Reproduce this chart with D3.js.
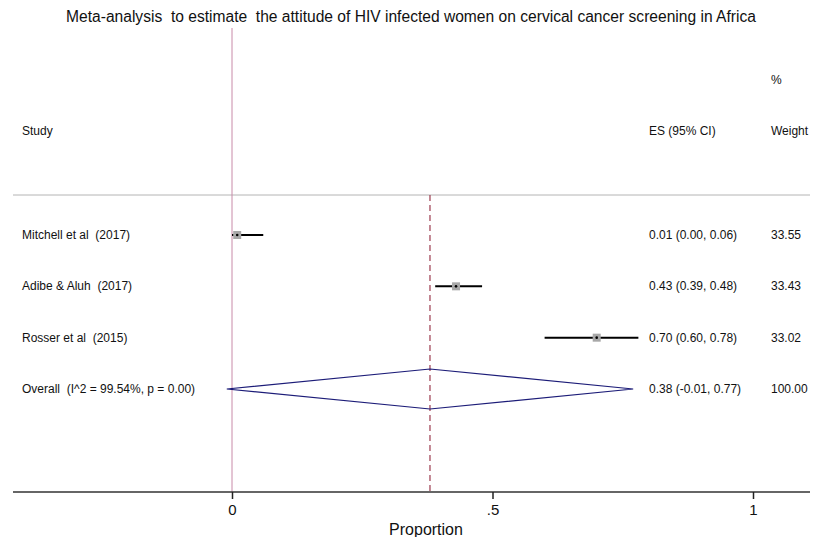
<!DOCTYPE html>
<html lang="en">

<head>
  <meta charset="UTF-8">
  <title>Forest plot</title>
  <script src="https://d3js.org/d3.v7.min.js"></script>
  <style>
    body {
      margin: 0;
      background: #fff;
    }

    svg text {
      font-family: "Liberation Sans", Arial, sans-serif;
      white-space: pre;
      fill: #111;
    }
  </style>
</head>

<body>
  <div class="chartContainer"></div>

  <script>
    const studies = ['Mitchell et al  (2017)', 'Adibe & Aluh  (2017)', 'Rosser et al  (2015)']
    const es = [0.01, 0.43, 0.70]
    const lo = [0.00, 0.39, 0.60]
    const hi = [0.06, 0.48, 0.78]
    const weights = ['33.55', '33.43', '33.02']
    const overall = { label: 'Overall  (I^2 = 99.54%, p = 0.00)', es: 0.38, lo: -0.01, hi: 0.77, weight: '100.00' }
    const tickValues = [0, 0.5, 1]
    const tickLabels = ['0', '.5', '1']

    const W = 823, H = 537
    const fs = '12px'

    const svg = d3.select('.chartContainer')
      .append('svg')
      .attr('width', W)
      .attr('height', H)

    // x scale: 0 -> 232px, 1 -> 753px
    const x = d3.scaleLinear().domain([0, 1]).range([232, 753])
    // rows: 0..2 studies, 3 overall
    const y = d3.scalePoint().domain([0, 1, 2, 3]).range([235, 389])

    const axisY = 492

    // title
    svg.append('text')
      .attr('x', 411).attr('y', 22)
      .attr('text-anchor', 'middle')
      .style('font-size', '15.6px')
      .text('Meta-analysis  to estimate  the attitude of HIV infected women on cervical cancer screening in Africa')

    // header
    svg.append('text').attr('x', 22).attr('y', 135).style('font-size', fs).text('Study')
    svg.append('text').attr('x', 649).attr('y', 135).style('font-size', fs).text('ES (95% CI)')
    svg.append('text').attr('x', 771).attr('y', 135).style('font-size', fs).text('Weight')
    svg.append('text').attr('x', 771).attr('y', 84).style('font-size', fs).text('%')

    // separator
    svg.append('line')
      .attr('x1', 13).attr('x2', 810)
      .attr('y1', 195).attr('y2', 195)
      .attr('stroke', '#b4b4b4').attr('stroke-width', 1)

    // null line at 0
    svg.append('line')
      .attr('x1', x(0)).attr('x2', x(0))
      .attr('y1', 28).attr('y2', axisY)
      .attr('stroke', '#c88aa8').attr('stroke-width', 1)

    // overall dashed line
    svg.append('line')
      .attr('x1', x(overall.es)).attr('x2', x(overall.es))
      .attr('y1', 195).attr('y2', axisY)
      .attr('stroke', '#9c3a4e').attr('stroke-width', 1.2)
      .attr('stroke-dasharray', '6,4')

    const rows = studies.map((s, i) => ({ s, es: es[i], lo: lo[i], hi: hi[i], w: weights[i], i }))

    // CI lines
    svg.selectAll('.ci')
      .data(rows)
      .enter()
      .append('line')
      .attr('x1', d => x(d.lo)).attr('x2', d => x(d.hi))
      .attr('y1', d => y(d.i)).attr('y2', d => y(d.i))
      .attr('stroke', '#000').attr('stroke-width', 2)

    // weight boxes
    svg.selectAll('.box')
      .data(rows)
      .enter()
      .append('rect')
      .attr('x', d => x(d.es) - 4).attr('y', d => y(d.i) - 4)
      .attr('width', 8).attr('height', 8)
      .attr('fill', '#a8a8a8')

    svg.selectAll('.pt')
      .data(rows)
      .enter()
      .append('circle')
      .attr('cx', d => x(d.es)).attr('cy', d => y(d.i))
      .attr('r', 1.3)
      .attr('fill', '#000')

    // row texts
    svg.selectAll('.lab')
      .data(rows)
      .enter()
      .append('text')
      .attr('x', 22).attr('y', d => y(d.i) + 4)
      .style('font-size', fs)
      .text(d => d.s)

    // plain hyphen for negatives, like the original
    const f = v => v.toFixed(2)
    svg.selectAll('.esTxt')
      .data(rows)
      .enter()
      .append('text')
      .attr('x', 649).attr('y', d => y(d.i) + 4)
      .style('font-size', fs)
      .text(d => `${f(d.es)} (${f(d.lo)}, ${f(d.hi)})`)

    svg.selectAll('.wTxt')
      .data(rows)
      .enter()
      .append('text')
      .attr('x', 771).attr('y', d => y(d.i) + 4)
      .style('font-size', fs)
      .text(d => d.w)

    // overall diamond
    const oy = y(3)
    svg.append('polygon')
      .attr('points', [
        [x(overall.lo), oy], [x(overall.es), oy - 20],
        [x(overall.hi), oy], [x(overall.es), oy + 20]
      ].map(p => p.join(',')).join(' '))
      .attr('fill', 'none')
      .attr('stroke', '#1c1c78').attr('stroke-width', 1.2)

    svg.append('text').attr('x', 22).attr('y', oy + 4).style('font-size', fs).text(overall.label)
    svg.append('text').attr('x', 649).attr('y', oy + 4).style('font-size', fs)
      .text(`${f(overall.es)} (${f(overall.lo)}, ${f(overall.hi)})`)
    svg.append('text').attr('x', 771).attr('y', oy + 4).style('font-size', fs).text(overall.weight)

    // x axis
    svg.append('line')
      .attr('x1', 13).attr('x2', 810)
      .attr('y1', axisY).attr('y2', axisY)
      .attr('stroke', '#333').attr('stroke-width', 1.5)

    const ax = svg.append('g')
      .attr('transform', `translate(0,${axisY})`)
      .call(d3.axisBottom(x).tickValues(tickValues).tickSize(7).tickPadding(5)
        .tickFormat((d, i) => tickLabels[i]))
    ax.select('.domain').remove()
    ax.selectAll('.tick line').attr('stroke', '#222').attr('stroke-width', 1.5)
    ax.selectAll('.tick text').style('font-size', '15px').attr('fill', '#111')

    svg.append('text')
      .attr('x', 426).attr('y', 535)
      .attr('text-anchor', 'middle')
      .style('font-size', '16px')
      .text('Proportion')
  </script>
</body>

</html>
